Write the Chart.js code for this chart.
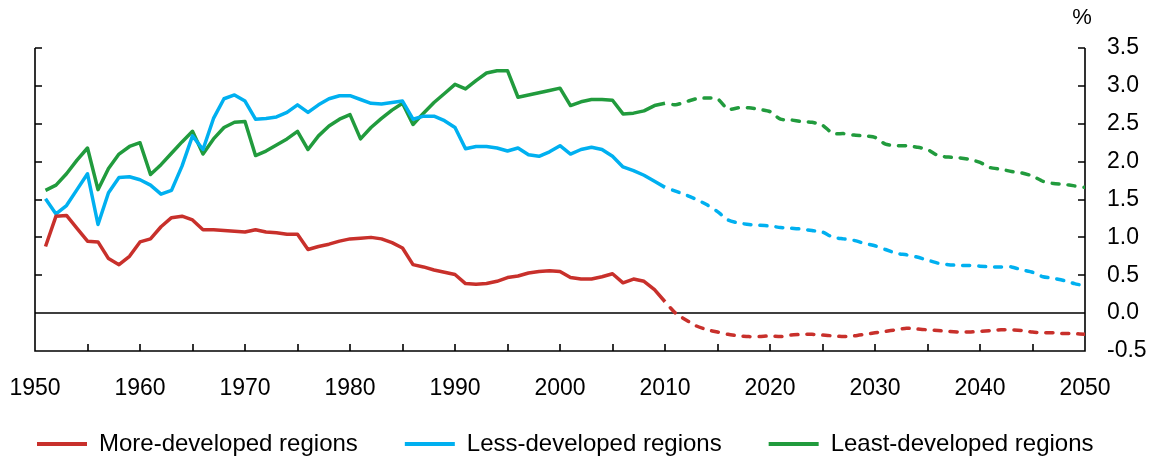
<!DOCTYPE html>
<html>
<head>
<meta charset="utf-8">
<script src="https://cdn.jsdelivr.net/npm/chart.js@4/dist/chart.umd.min.js"></script>
<style>
html,body{margin:0;padding:0;background:#fff;}
#wrap{width:1154px;height:464px;}
</style>
</head>
<body>
<div id="wrap"><canvas id="c" width="1154" height="464"></canvas></div>
<script>
// ---- Data ----
const histYears = [1951,1952,1953,1954,1955,1956,1957,1958,1959,1960,
  1961,1962,1963,1964,1965,1966,1967,1968,1969,1970,
  1971,1972,1973,1974,1975,1976,1977,1978,1979,1980,
  1981,1982,1983,1984,1985,1986,1987,1988,1989,1990,
  1991,1992,1993,1994,1995,1996,1997,1998,1999,2000,
  2001,2002,2003,2004,2005,2006,2007,2008,2009,2010];
const projYears = [2010,2011,2012,2013,2014,2015,2016,2017,2018,2019,2020,
  2021,2022,2023,2024,2025,2026,2027,2028,2029,2030,
  2031,2032,2033,2034,2035,2036,2037,2038,2039,2040,
  2041,2042,2043,2044,2045,2046,2047,2048,2049,2050];

const seriesNames = ['More-developed regions','Less-developed regions','Least-developed regions'];

const moreHist = [0.88,1.28,1.29,1.12,0.95,0.94,0.72,0.64,0.75,0.94,
  0.98,1.14,1.26,1.28,1.23,1.10,1.10,1.09,1.08,1.07,
  1.10,1.07,1.06,1.04,1.04,0.84,0.88,0.91,0.95,0.98,
  0.99,1.00,0.98,0.93,0.86,0.64,0.61,0.57,0.54,0.51,
  0.39,0.38,0.39,0.42,0.47,0.49,0.53,0.55,0.56,0.55,
  0.47,0.45,0.45,0.48,0.52,0.40,0.45,0.42,0.31,0.15];
const lessHist = [1.51,1.31,1.42,1.63,1.84,1.17,1.59,1.79,1.80,1.76,
  1.69,1.57,1.62,1.94,2.34,2.16,2.57,2.83,2.88,2.80,
  2.56,2.57,2.59,2.65,2.75,2.65,2.75,2.83,2.87,2.87,
  2.82,2.77,2.76,2.78,2.80,2.56,2.60,2.60,2.54,2.45,
  2.17,2.20,2.20,2.18,2.14,2.18,2.09,2.07,2.13,2.21,
  2.10,2.16,2.19,2.16,2.07,1.93,1.88,1.82,1.74,1.66];
const leastHist = [1.62,1.69,1.84,2.02,2.18,1.63,1.91,2.10,2.20,2.25,
  1.83,1.96,2.11,2.26,2.40,2.10,2.30,2.45,2.52,2.53,
  2.08,2.14,2.22,2.30,2.40,2.16,2.34,2.47,2.56,2.62,
  2.30,2.45,2.57,2.68,2.77,2.49,2.64,2.78,2.90,3.02,
  2.96,3.07,3.17,3.20,3.20,2.85,2.88,2.91,2.94,2.97,
  2.74,2.79,2.82,2.82,2.81,2.63,2.64,2.67,2.74,2.77];

const moreProj = [0.15,0.00,-0.09,-0.17,-0.22,-0.25,-0.28,-0.30,-0.31,-0.31,-0.30,
  -0.31,-0.29,-0.28,-0.28,-0.29,-0.30,-0.31,-0.30,-0.28,-0.26,
  -0.24,-0.22,-0.20,-0.21,-0.22,-0.23,-0.24,-0.25,-0.25,-0.24,
  -0.23,-0.22,-0.22,-0.23,-0.25,-0.26,-0.26,-0.27,-0.27,-0.28];
const lessProj = [1.66,1.61,1.56,1.50,1.43,1.34,1.23,1.19,1.17,1.16,1.15,
  1.13,1.12,1.11,1.09,1.07,1.00,0.98,0.96,0.92,0.89,
  0.84,0.79,0.77,0.74,0.70,0.66,0.64,0.63,0.63,0.62,
  0.61,0.61,0.61,0.57,0.54,0.48,0.46,0.43,0.39,0.36];
const leastProj = [2.77,2.75,2.79,2.83,2.84,2.83,2.69,2.71,2.71,2.69,2.66,
  2.56,2.55,2.53,2.52,2.48,2.37,2.37,2.35,2.34,2.32,
  2.23,2.21,2.21,2.19,2.16,2.08,2.06,2.05,2.03,1.99,
  1.92,1.90,1.87,1.85,1.81,1.74,1.71,1.70,1.68,1.66];

// ---- Styling ----
const colors = ['#C8302B', '#00B0F0', '#219B3D'];
const FONT = "'Liberation Sans', Arial, Helvetica, sans-serif";
Chart.defaults.font.family = FONT;
Chart.defaults.color = '#000';

function pts(xs, ys) { return xs.map((x, i) => ({x: x, y: ys[i]})); }

const hist = [moreHist, lessHist, leastHist];
const proj = [moreProj, lessProj, leastProj];
const datasets = [];
for (let i = 0; i < 3; i++) {
  datasets.push({
    label: seriesNames[i], data: pts(histYears, hist[i]), yAxisID: 'y',
    borderColor: colors[i], backgroundColor: colors[i], borderWidth: 3.5,
    pointRadius: 0, tension: 0, borderJoinStyle: 'round', borderCapStyle: 'butt', projection: false
  });
  datasets.push({
    label: seriesNames[i] + ' (projection)', data: pts(projYears, proj[i]), yAxisID: 'y',
    borderColor: colors[i], backgroundColor: colors[i], borderWidth: 3.5,
    borderDash: [7, 9], borderDashOffset: 8, borderCapStyle: 'round',
    pointRadius: 0, tension: 0.2, borderJoinStyle: 'round', projection: true
  });
}

const LEG_PAD = 47;

const frame = {
  id: 'frame',
  afterLayout(chart) {
    // place the legend row: first item starts near x=37, text centred at y=444
    const lg = chart.legend;
    if (!lg || !lg.lineWidths) return;
    lg.right = chart.width;
    lg.left = 2 * 37 - LEG_PAD - lg.right + lg.lineWidths[0];
    lg.top = 444 - 12 - LEG_PAD;
    lg.bottom = chart.height;
  },
  beforeDatasetsDraw(chart) {
    const {ctx, chartArea: a, scales: {x, y}} = chart;
    ctx.save();
    ctx.strokeStyle = '#000';
    ctx.lineWidth = 1.6;
    ctx.beginPath();
    ctx.moveTo(a.left, a.top); ctx.lineTo(a.left, a.bottom); ctx.lineTo(a.right, a.bottom); ctx.lineTo(a.right, a.top);
    y.ticks.forEach(t => {
      const py = Math.round(y.getPixelForValue(t.value));
      ctx.moveTo(a.left, py); ctx.lineTo(a.left + 7, py);
      ctx.moveTo(a.right, py); ctx.lineTo(a.right - 7, py);
    });
    x.ticks.forEach(t => {
      const px = Math.round(x.getPixelForValue(t.value));
      ctx.moveTo(px, a.bottom); ctx.lineTo(px, a.bottom - 7);
    });
    const z = Math.round(y.getPixelForValue(0));
    ctx.moveTo(a.left, z); ctx.lineTo(a.right, z);
    ctx.stroke();
    ctx.fillStyle = '#000';
    ctx.font = '22px ' + FONT;
    ctx.textAlign = 'center';
    ctx.textBaseline = 'middle';
    ctx.fillText('%', a.right - 3, 18);
    ctx.restore();
  }
};

new Chart(document.getElementById('c'), {
  type: 'line',
  data: { datasets: datasets },
  plugins: [frame],
  options: {
    responsive: false,
    animation: false,
    devicePixelRatio: 1,
    layout: { padding: { left: 0, right: 0, top: 48, bottom: 0 } },
    plugins: {
      tooltip: { enabled: false },
      legend: {
        position: 'bottom',
        maxHeight: 63,
        labels: {
          font: { size: 24, family: FONT },
          color: '#000',
          boxWidth: 50,
          boxHeight: 4,
          padding: LEG_PAD,
          generateLabels(chart) {
            return chart.data.datasets
              .map((d, i) => ({d, i}))
              .filter(o => !o.d.projection)
              .map(o => ({
                text: o.d.label, fillStyle: o.d.borderColor, strokeStyle: o.d.borderColor,
                lineWidth: 0, hidden: false, datasetIndex: o.i, fontColor: '#000'
              }));
          }
        }
      }
    },
    scales: {
      x: {
        type: 'linear', min: 1950, max: 2050,
        grid: { display: false, drawTicks: true, tickLength: 24 },
        border: { display: false },
        ticks: {
          stepSize: 5, autoSkip: false, maxRotation: 0, padding: 0,
          font: { size: 23 },
          callback: v => (v % 10 === 0 ? String(v) : '')
        },
        afterFit: s => { s.height = 50; }
      },
      yL: {
        position: 'left', min: -0.5, max: 3.5,
        grid: { display: false, drawTicks: false },
        border: { display: false },
        ticks: { display: false },
        afterFit: s => { s.width = 35; }
      },
      y: {
        position: 'right', min: -0.5, max: 3.5,
        grid: { display: false, drawTicks: false },
        border: { display: false },
        ticks: {
          stepSize: 0.5, padding: 22, font: { size: 23 },
          callback: v => Number(v).toFixed(1)
        },
        afterFit: s => { s.width = 69; }
      }
    }
  }
});
</script>
</body>
</html>
